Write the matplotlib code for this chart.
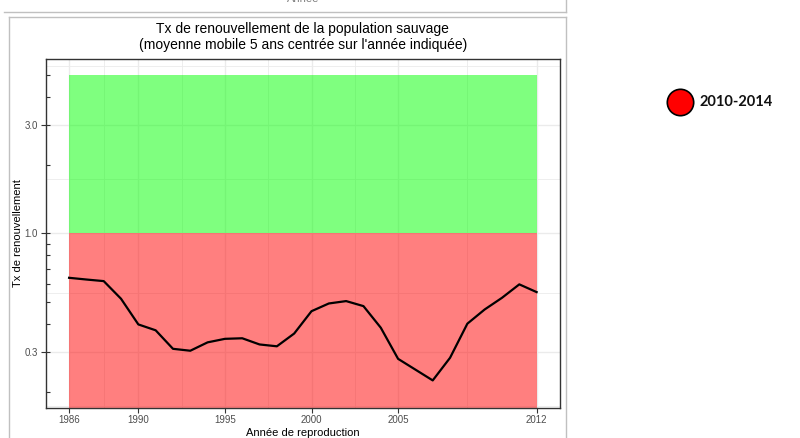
import numpy as np
import matplotlib.pyplot as plt
from matplotlib.lines import Line2D
from matplotlib.ticker import FixedLocator, NullFormatter

plt.rcParams['font.family'] = ['Liberation Sans', 'DejaVu Sans']

# taux de renouvellement, moyenne mobile 5 ans
annees = list(range(1986, 2014))
taux = [0.637, 0.626, 0.616, 0.515, 0.397, 0.374, 0.310, 0.304, 0.331, 0.343,
        0.345, 0.324, 0.318, 0.362, 0.454, 0.491, 0.503, 0.478, 0.384, 0.280,
        0.251, 0.225, 0.283, 0.400, 0.462, 0.520, 0.596, 0.551]

# zones : declin (< 1) et croissance (1 a 5)
seuil = 1.0
haut_zone = 5.0

x_ticks = [1986, 1990, 1995, 2000, 2005, 2013]
x_labels = ['1986', '1990', '1995', '2000', '2005', '2012']
y_ticks = [0.3, 1.0, 3.0]
y_labels = ['0.3', '1.0', '3.0']
log_ticks = [0.2, 0.3, 0.4, 0.5, 0.6, 0.7, 0.8, 0.9, 1, 2, 3, 4, 5]

legende = '2010-2014'

W, H = 800, 438
fig = plt.figure(figsize=(W / 100, H / 100), dpi=100)
ax = fig.add_axes([45.7 / W, 1 - 407.7 / H, (560 - 45.7) / W, (407.7 - 59) / H])

ax.set_yscale('log')
x0, x1 = annees[0], annees[-1]
pad = 0.05 * (x1 - x0)
ax.set_xlim(x0 - pad, x1 + pad)
ax.set_ylim(0.1706, 5.86)

# grille
grid_col = '#ebebeb'
for x in x_ticks:
    ax.axvline(x, color=grid_col, lw=1.0, zorder=0)
for a, b in zip(x_ticks[:-1], x_ticks[1:]):
    ax.axvline((a + b) / 2, color=grid_col, lw=0.6, zorder=0)
for y in y_ticks:
    ax.axhline(y, color=grid_col, lw=1.0, zorder=0)
y_ext = [0.1] + y_ticks + [10]
for a, b in zip(y_ext[:-1], y_ext[1:]):
    ax.axhline(np.sqrt(a * b), color=grid_col, lw=0.6, zorder=0)

ax.fill_between([x0, x1], 0.01, seuil, color='#ff0000', alpha=0.5, lw=0, zorder=1)
ax.fill_between([x0, x1], seuil, haut_zone, color='#00ff00', alpha=0.5, lw=0, zorder=1)

ax.plot(annees, taux, color='black', lw=1.6, zorder=3)

ax.set_xticks(x_ticks)
ax.set_xticklabels(x_labels)
ax.yaxis.set_major_locator(FixedLocator(y_ticks))
ax.set_yticklabels(y_labels)
ax.yaxis.set_minor_locator(FixedLocator(log_ticks))
ax.yaxis.set_minor_formatter(NullFormatter())
ax.yaxis.remove_overlapping_locs = False
ax.tick_params(which='major', length=3.5, width=0.8, color='#333333',
               labelsize=7, labelcolor='#4d4d4d', pad=2)
ax.tick_params(axis='y', which='minor', direction='in', length=3, width=0.8,
               color='#333333')
ax.tick_params(axis='x', which='minor', length=0)

for s in ax.spines.values():
    s.set_color('#333333')
    s.set_linewidth(1.0)

ax.set_xlabel('Année de reproduction', fontsize=8, labelpad=2)
ax.set_ylabel('Tx de renouvellement', fontsize=8, labelpad=1)
ax.set_title('Tx de renouvellement de la population sauvage\n'
             "(moyenne mobile 5 ans centrée sur l'année indiquée)",
             fontsize=10, linespacing=1.25, pad=7)

# cadres gris autour du graphique
cadre = '#c0c0c0'
fig.add_artist(Line2D([4 / W, 566 / W], [1 - 11.7 / H] * 2, color=cadre, lw=1))
fig.add_artist(Line2D([566 / W] * 2, [1, 1 - 11.7 / H], color=cadre, lw=1))
fig.add_artist(Line2D([9 / W, 566 / W], [1 - 17.3 / H] * 2, color=cadre, lw=1))
fig.add_artist(Line2D([9 / W] * 2, [1 - 17.3 / H, 0], color=cadre, lw=1))
fig.add_artist(Line2D([566 / W] * 2, [1 - 17.3 / H, 0], color=cadre, lw=1))
fig.text(303 / W, 1 - 4 / H, 'Année', fontsize=8,
         ha='center', va='bottom', color='#808080')

# legende
fig.add_artist(Line2D([680 / W], [1 - 102 / H], marker='o', markersize=19,
                      markerfacecolor='#ff0000', markeredgecolor='black',
                      markeredgewidth=1.2, ls='none'))
fig.text(699 / W, 1 - 102 / H, legende, fontsize=10.5, fontweight='bold',
         family=['Lato', 'DejaVu Sans'], va='center', ha='left', color='#111111')

fig.savefig('out.png', dpi=100)
